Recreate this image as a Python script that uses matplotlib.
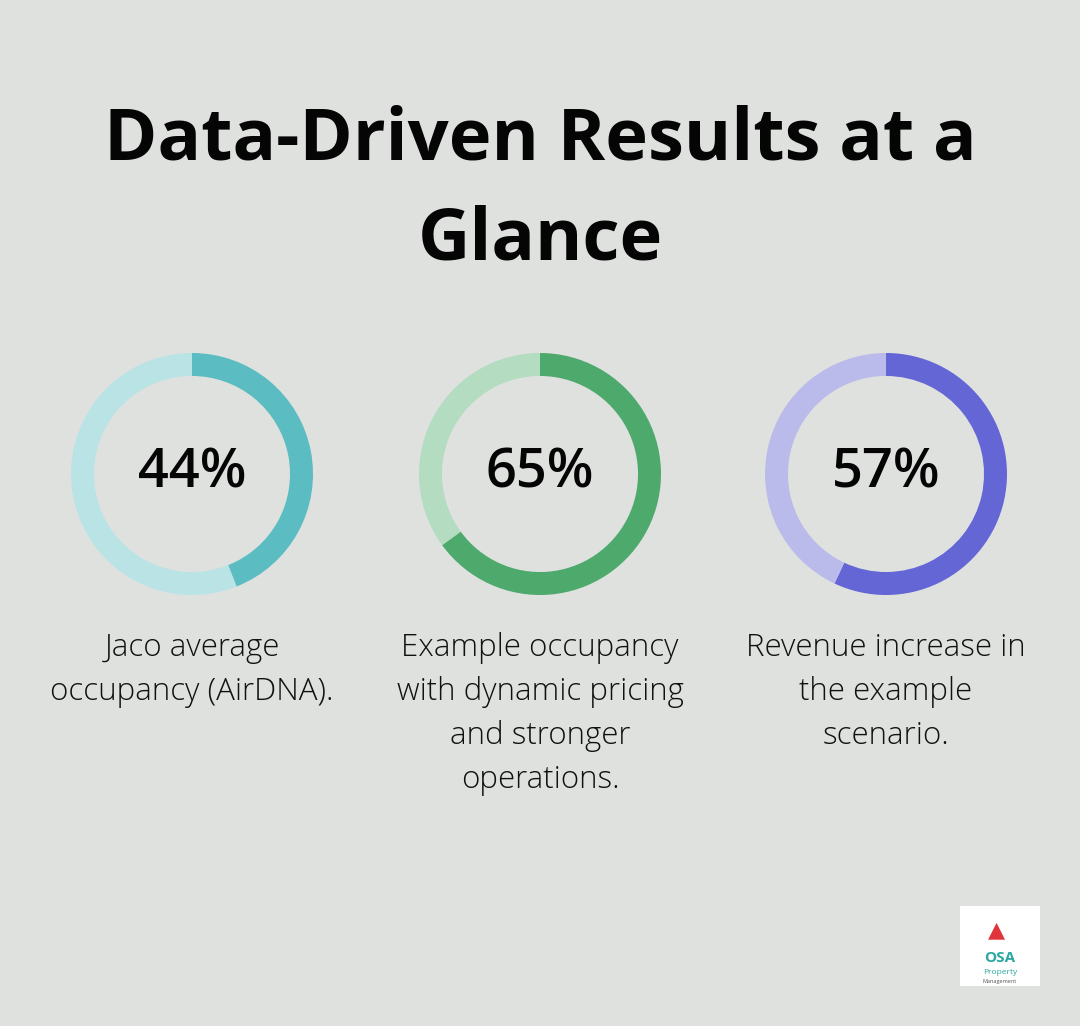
import matplotlib.pyplot as plt
from matplotlib.patches import Rectangle

values = [44, 65, 57]
labels = ["Jaco average\noccupancy (AirDNA).",
          "Example occupancy\nwith dynamic pricing\nand stronger\noperations.",
          "Revenue increase in\nthe example\nscenario."]
dark = ["#5bbcc2", "#4ea96c", "#6366d4"]
light = ["#b9e3e5", "#b3dcc0", "#babbea"]
centers_x = [192, 540, 886]

W, H = 1080, 1026
bg = "#dfe1df"
fig = plt.figure(figsize=(W / 100, H / 100), dpi=100)
fig.patch.set_facecolor(bg)

fig.text(540 / W, 1 - 140 / H, "Data-Driven Results at a", ha="center", va="center",
         fontsize=52, fontweight="bold", family="Open Sans", color="#050505")
fig.text(540 / W, 1 - 240 / H, "Glance", ha="center", va="center",
         fontsize=52, fontweight="bold", family="Open Sans", color="#050505")

R = 121
cy = 474
for v, lab, c1, c2, cx in zip(values, labels, dark, light, centers_x):
    ax = fig.add_axes([(cx - R) / W, (H - cy - R) / H, 2 * R / W, 2 * R / H])
    ax.pie([v, 100 - v], colors=[c1, c2], startangle=90, counterclock=False,
           radius=1, wedgeprops=dict(width=0.19, linewidth=0))
    ax.set_aspect("equal")
    ax.set_xlim(-1, 1)
    ax.set_ylim(-1, 1)
    ax.text(0, 0, f"{v}%", ha="center", va="center", fontsize=39,
            fontweight="semibold", family="Open Sans", color="#050505")
    fig.text(cx / W, 1 - 632 / H, lab, ha="center", va="top", fontsize=22.5,
             fontweight="light", family="Open Sans", color="#111111", linespacing=1.5)

# logo box
fig.patches.append(Rectangle((960 / W, 1 - 986 / H), 80 / W, 80 / H,
                             transform=fig.transFigure, facecolor="white", edgecolor="none"))
fig.text(1000 / W, 1 - 958 / H, "OSA", ha="center", va="center", fontsize=11,
         fontweight="bold", color="#2aa7a0", family="Open Sans")
fig.text(1000 / W, 1 - 973 / H, "Property", ha="center", va="center", fontsize=6,
         color="#2aa7a0", family="Open Sans")
fig.text(1000 / W, 1 - 981 / H, "Management", ha="center", va="center", fontsize=4,
         color="#555555", family="Open Sans")
fig.text(996 / W, 1 - 930 / H, "\u25b2", ha="center", va="center", fontsize=16,
         color="#e0343c")

fig.savefig("out.png", dpi=100, facecolor=bg)
